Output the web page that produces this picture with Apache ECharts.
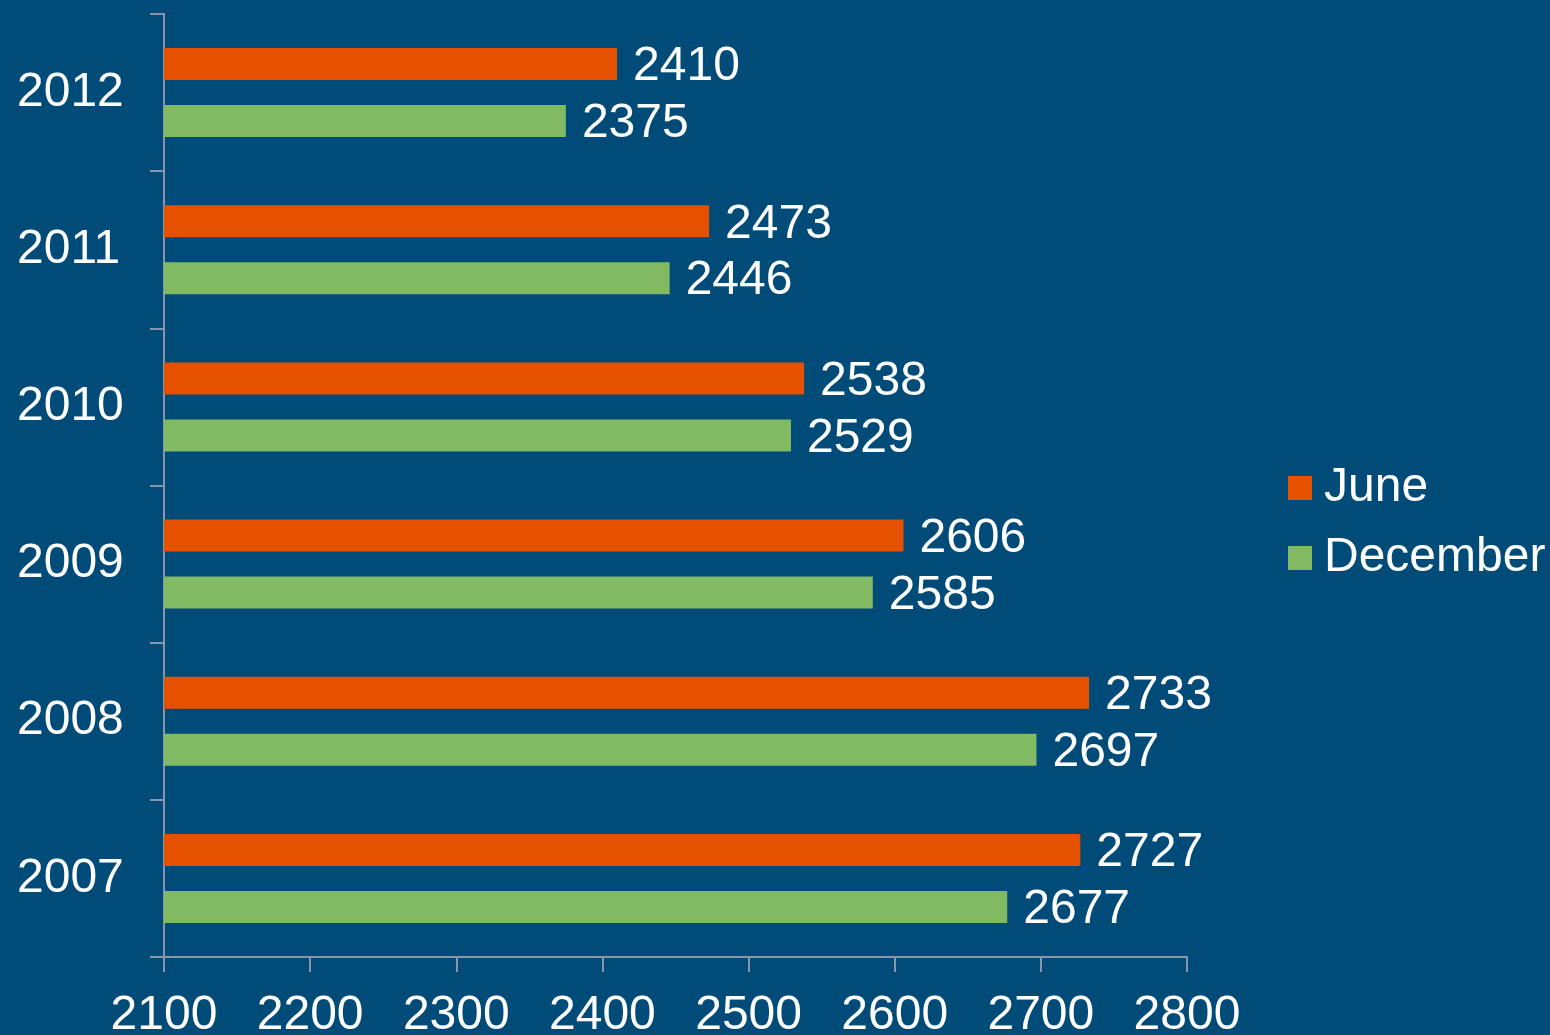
<!DOCTYPE html>
<html><head><meta charset="utf-8">
<script src="https://cdn.jsdelivr.net/npm/echarts@6/dist/echarts.min.js"></script>
<style>html,body{margin:0;padding:0;background:#014b78;}#c{width:1550px;height:1035px;}</style>
</head><body><div id="c"></div>
<script>
const years = ['2012','2011','2010','2009','2008','2007'];
const june = [2410, 2473, 2538, 2606, 2733, 2727];
const december = [2375, 2446, 2529, 2585, 2697, 2677];
const xTicks = [2100, 2200, 2300, 2400, 2500, 2600, 2700, 2800];

const chart = echarts.init(document.getElementById('c'));
const font = 'Liberation Sans, Arial, sans-serif';
const axisCol = '#8995a8';
const fs = 48;
chart.setOption({
  backgroundColor: '#014b78',
  animation: false,
  textStyle: { fontFamily: font },
  grid: { left: 164, right: 363, top: 14, bottom: 78, containLabel: false, outerBoundsMode: 'none' },
  legend: {
    data: ['June', 'December'], orient: 'vertical', left: 1288, top: 464, padding: 0,
    itemWidth: 24, itemHeight: 24, itemGap: 22, icon: 'rect',
    textStyle: { color: '#fff', fontSize: fs, fontFamily: font, padding: [0,0,0,7] }
  },
  xAxis: {
    type: 'value', min: xTicks[0], max: xTicks[xTicks.length-1], interval: 100,
    axisLine: { show: true, lineStyle: { color: axisCol, width: 2 } },
    axisTick: { show: true, length: 15, lineStyle: { color: axisCol, width: 2 } },
    splitLine: { show: false },
    axisLabel: { color: '#fff', fontSize: fs, fontFamily: font, margin: 35, formatter: v => String(v) }
  },
  yAxis: {
    type: 'category', data: years, inverse: true,
    axisLine: { show: true, lineStyle: { color: axisCol, width: 2 } },
    axisTick: { show: true, length: 14, lineStyle: { color: axisCol, width: 2 } },
    axisLabel: { color: '#fff', fontSize: fs, fontFamily: font, margin: 42, align: 'left', padding: [6,0,0,-105] }
  },
  series: [
    { name: 'June', type: 'bar', data: june, barWidth: 32, barGap: '78%',
      itemStyle: { color: '#e65100' },
      label: { show: true, position: 'right', distance: 16, offset: [0, 3], color: '#fff', fontSize: fs, fontFamily: font } },
    { name: 'December', type: 'bar', data: december, barWidth: 32, barGap: '78%',
      itemStyle: { color: '#82ba64' },
      label: { show: true, position: 'right', distance: 16, offset: [0, 3], color: '#fff', fontSize: fs, fontFamily: font } }
  ]
});
</script></body></html>
